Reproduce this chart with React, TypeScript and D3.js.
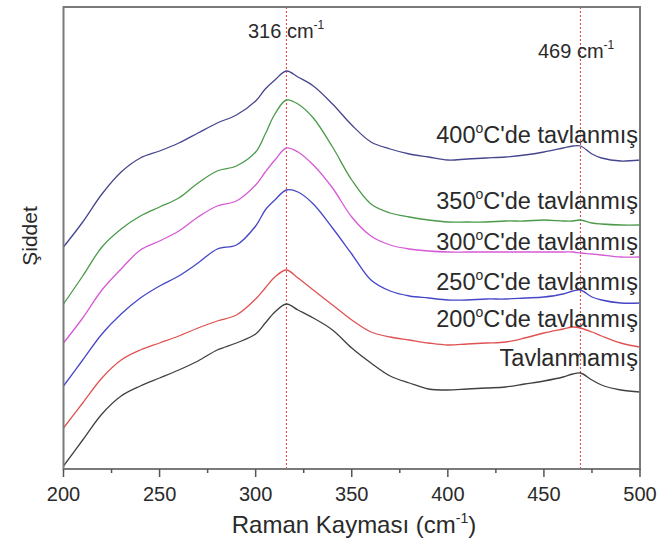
import React from 'react';
import * as d3 from 'd3';

// Raman shift (cm^-1)
const wavenumbers = [200, 210, 220, 230, 240, 250, 260, 270, 280, 290, 300, 305, 310, 316, 322, 330, 340, 350, 360, 370, 380, 390, 400, 410, 420, 430, 440, 450, 460, 465, 469, 475, 480, 490, 500];

// Intensities (arbitrary units, stacked as in the figure)
const annealed400 = [222, 247, 275, 297, 311, 318, 326, 336, 346, 354, 368, 380, 389, 398, 392, 383, 365, 344, 327, 320, 315, 312, 309, 310, 311, 312, 314, 317, 321, 323, 323, 315, 311, 308, 309];
const annealed350 = [165, 193, 222, 240, 253, 262, 271, 286, 298, 303, 317, 335, 355, 369, 365, 351, 322, 289, 265, 256, 252, 249, 247, 247, 247, 248, 248, 249, 248, 248, 249, 246, 245, 244, 244];
const annealed300 = [126, 151, 179, 200, 219, 228, 238, 252, 263, 268, 284, 297, 309, 321, 317, 304, 281, 252, 233, 224, 220, 218, 217, 217, 217, 217, 217, 217, 217, 217, 216, 215, 214, 212, 212];
const annealed250 = [83, 109, 135, 155, 171, 183, 193, 206, 220, 224, 243, 259, 269, 279, 277, 265, 241, 215, 189, 178, 173, 171, 169, 169, 170, 170, 171, 172, 175, 178, 179, 172, 169, 166, 166];
const annealed200 = [41, 66, 91, 109, 119, 126, 133, 141, 148, 154, 170, 181, 192, 199, 191, 179, 164, 149, 137, 132, 129, 126, 124, 125, 126, 127, 131, 136, 140, 142, 141, 137, 133, 126, 122];
const unannealed = [3, 29, 55, 73, 83, 91, 99, 108, 119, 126, 135, 146, 157, 165, 159, 151, 139, 121, 106, 93, 86, 80, 79, 80, 81, 82, 85, 88, 92, 95, 96, 89, 84, 79, 77];

const seriesTemps = ['400', '350', '300', '250', '200', ''];
const seriesSuffix = "C'de tavlanmış";
const unannealedLabel = 'Tavlanmamış';

const xTicks = [200, 250, 300, 350, 400, 450, 500];
const xMinorTicks = [225, 275, 325, 375, 425, 475];
const peakPositions = [316, 469];
const peakLabels = ['316', '469'];

const xTitle = 'Raman Kayması (cm';
const yTitle = 'Şiddet';

const seriesValues = [annealed400, annealed350, annealed300, annealed250, annealed200, unannealed];

// styles (kept apart from the data)
const seriesColors = ['#46468f', '#4a9a4a', '#d65ad6', '#4646c8', '#e05252', '#404040'];
const labelBaselines = [143, 209, 250, 290, 327, 366];
const peakLabelPos = [
  { x: 248, y: 38 },
  { x: 538, y: 58 },
];

export default function App() {
  const W = 657;
  const H = 556;
  const left = 63.5;
  const right = 640;
  const top = 7;
  const bottom = 469;

  const x = d3.scaleLinear().domain([200, 500]).range([left, right]);
  const y = d3.scaleLinear().domain([0, 462]).range([bottom, top]);

  const line = d3
    .line<number>()
    .x((_, i) => x(wavenumbers[i]))
    .y((d) => y(d))
    .curve(d3.curveCatmullRom.alpha(0.5));

  const font = "'Liberation Sans', Arial, sans-serif";
  const textColor = '#2a2a2a';
  const frameColor = '#7a7a7a';

  return (
    <svg
      width={W}
      height={H}
      style={{ position: 'absolute', left: 0, top: 0, background: '#fff' }}
      fontFamily={font}
    >
      <rect x={0} y={0} width={W} height={H} fill="#fff" />

      {/* peak marker lines */}
      {peakPositions.map((p, i) => (
        <line
          key={'pk' + i}
          x1={x(p)}
          x2={x(p)}
          y1={top}
          y2={bottom}
          stroke="#e03a3a"
          strokeWidth={1}
          strokeDasharray="2,2"
        />
      ))}

      {/* curves */}
      {seriesValues.map((vals, i) => (
        <path
          key={'s' + i}
          d={line(vals) || ''}
          fill="none"
          stroke={seriesColors[i]}
          strokeWidth={1.3}
        />
      ))}

      {/* frame */}
      <rect
        x={left}
        y={top}
        width={right - left}
        height={bottom - top}
        fill="none"
        stroke={frameColor}
        strokeWidth={2}
      />

      {/* x ticks */}
      {xTicks.map((t) => (
        <g key={'t' + t}>
          <line x1={x(t)} x2={x(t)} y1={bottom} y2={bottom + 8} stroke="#555" strokeWidth={1.5} />
          <text x={x(t)} y={501} textAnchor="middle" fontSize={20} fill={textColor}>
            {t}
          </text>
        </g>
      ))}
      {xMinorTicks.map((t) => (
        <line key={'m' + t} x1={x(t)} x2={x(t)} y1={bottom} y2={bottom + 4} stroke="#555" strokeWidth={1.5} />
      ))}

      {/* axis titles */}
      <text x={354} y={533} textAnchor="middle" fontSize={24} fill={textColor}>
        {xTitle}
        <tspan fontSize={14} dy={-10}>-1</tspan>
        <tspan dy={10}>)</tspan>
      </text>
      <text
        transform="translate(37,236) rotate(-90)"
        textAnchor="middle"
        fontSize={21}
        fill={textColor}
      >
        {yTitle}
      </text>

      {/* peak labels */}
      {peakLabels.map((lab, i) => (
        <text key={'pl' + i} x={peakLabelPos[i].x} y={peakLabelPos[i].y} fontSize={20} fill={textColor}>
          {lab} cm
          <tspan fontSize={12} dy={-9}>-1</tspan>
        </text>
      ))}

      {/* series labels */}
      {seriesTemps.map((t, i) => (
        <text
          key={'sl' + i}
          x={638}
          y={labelBaselines[i]}
          textAnchor="end"
          fontSize={23.5}
          fill={textColor}
        >
          {t ? (
            <>
              {t}
              <tspan fontSize={14} dy={-10}>o</tspan>
              <tspan dy={10}>{seriesSuffix}</tspan>
            </>
          ) : (
            unannealedLabel
          )}
        </text>
      ))}
    </svg>
  );
}
